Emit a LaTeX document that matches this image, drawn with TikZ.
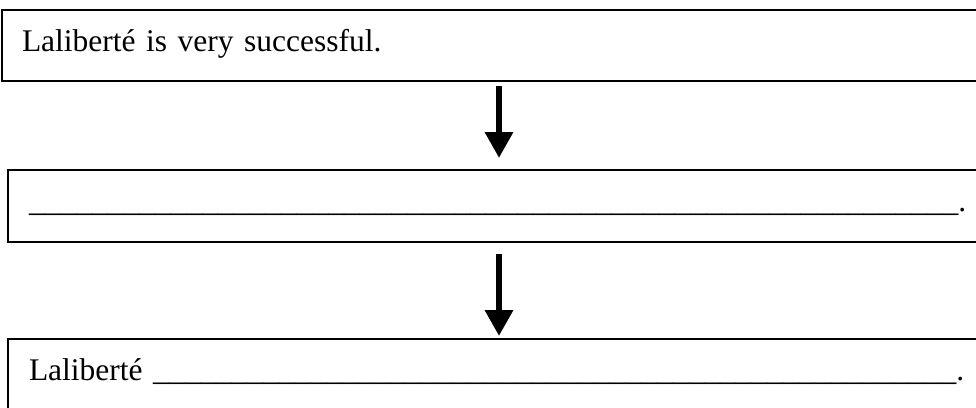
\documentclass[tikz,border=0pt]{standalone}
\usepackage{fontspec}
\setmainfont{Liberation Serif}
\usetikzlibrary{arrows.meta}
\tikzset{
  stepbox/.style={draw=black, line width=2pt, rectangle, anchor=north west,
    align=left, text width=1000pt, inner ysep=0pt,
    text height=20pt, text depth=10pt,
    font=\fontsize{31.5}{38}\selectfont},
  flowarrow/.style={draw=black, line width=6.3pt,
    -{Triangle[width=27pt,length=26pt]}}
}
\begin{document}
\begin{tikzpicture}[x=1pt,y=-1pt]
\useasboundingbox (0,0) rectangle (976,407);
\clip (0,0) rectangle (976,407);
\node[stepbox, inner xsep=20pt, minimum height=71pt, text depth=9pt] (b1) at (1,9)
  {Laliberté is very successful.};
\node[stepbox, inner xsep=21pt, minimum height=72pt] (b2) at (7,169)
  {\_\_\_\_\_\_\_\_\_\_\_\_\_\_\_\_\_\_\_\_\_\_\_\_\_\_\_\_\_\_\_\_\_\_\_\_\_\_\_\_\_\_\_\_\_\_\_\_\_\_\_\_\_\_\_\_\_\_\_.};
\node[stepbox, inner xsep=21pt, minimum height=72pt] (b3) at (7,338)
  {Laliberté \_\_\_\_\_\_\_\_\_\_\_\_\_\_\_\_\_\_\_\_\_\_\_\_\_\_\_\_\_\_\_\_\_\_\_\_\_\_\_\_\_\_\_\_\_\_\_\_\_\_\_.};
\coordinate (a1s) at (499,86);
\coordinate (a1e) at (499,158);
\coordinate (a2s) at (499,254);
\coordinate (a2e) at (499,336);
\draw[flowarrow] (a1s) -- (a1e);
\draw[flowarrow] (a2s) -- (a2e);
\end{tikzpicture}
\end{document}
